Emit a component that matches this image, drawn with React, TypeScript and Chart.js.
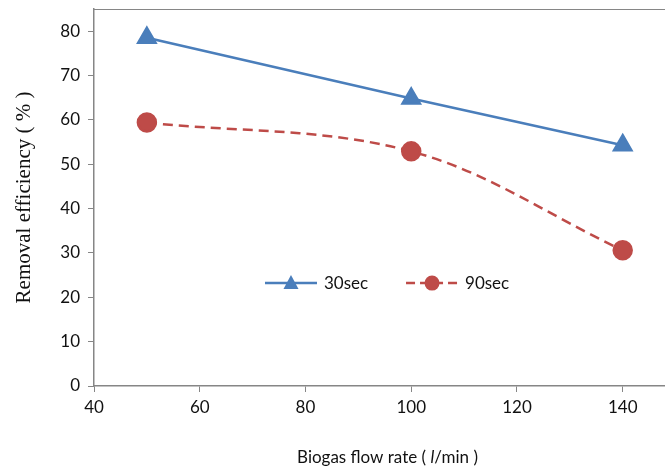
import { useEffect, useRef } from "react";
import { Chart, registerables } from "chart.js";
Chart.register(...registerables);

const flowRates = [50, 100, 140];
const eff30 = [78.5, 64.8, 54.3];
const eff90 = [59.4, 52.9, 30.6];
const seriesNames = ["30sec", "90sec"];
const xMin = 40;
const xMax = 148;
const xStep = 20;
const yMin = 0;
const yMax = 85;
const yStep = 10;
const yTitle = "Removal efficiency ( % )";
const xTitleParts = [
  { text: "Biogas flow rate ( ", italic: false },
  { text: "l", italic: true },
  { text: "/min )", italic: false },
];

const BLUE = "#4A7EBB";
const RED = "#BE4B48";
const AXIS = "#868686";
const SANS = "Lato, 'Open Sans', sans-serif";

export default function App() {
  const ref = useRef<HTMLCanvasElement | null>(null);
  useEffect(() => {
    if (!ref.current) return;
    const extras = {
      id: "extras",
      afterDraw(chart: any) {
        const ctx = chart.ctx;
        const a = chart.chartArea;
        ctx.save();
        // top border
        ctx.strokeStyle = AXIS;
        ctx.lineWidth = 1.2;
        ctx.beginPath();
        ctx.moveTo(a.left, a.top + 0.5);
        ctx.lineTo(a.right, a.top + 0.5);
        ctx.stroke();
        // legend
        const w = a.right - a.left;
        const h = a.bottom - a.top;
        const ly = a.top + 0.727 * h;
        const items = [
          { x: a.left + 0.345 * w, color: BLUE, dash: [] as number[], style: "triangle", name: seriesNames[0] },
          { x: a.left + 0.592 * w, color: RED, dash: [9, 5], style: "circle", name: seriesNames[1] },
        ];
        ctx.font = "17px " + SANS;
        ctx.textBaseline = "middle";
        for (const it of items) {
          ctx.strokeStyle = it.color;
          ctx.lineWidth = 2.5;
          ctx.setLineDash(it.dash);
          ctx.beginPath();
          ctx.moveTo(it.x - 26, ly);
          ctx.lineTo(it.x + 26, ly);
          ctx.stroke();
          ctx.setLineDash([]);
          ctx.fillStyle = it.color;
          ctx.beginPath();
          if (it.style === "triangle") {
            ctx.moveTo(it.x, ly - 8);
            ctx.lineTo(it.x + 7.5, ly + 6);
            ctx.lineTo(it.x - 7.5, ly + 6);
            ctx.closePath();
          } else {
            ctx.arc(it.x, ly, 7.5, 0, Math.PI * 2);
          }
          ctx.fill();
          ctx.fillStyle = "#111";
          ctx.textAlign = "left";
          ctx.fillText(it.name, it.x + 33, ly);
        }
        // x title with italic l
        const cx = (a.left + a.right) / 2 + 8;
        const ty = chart.height - 11;
        const fonts = xTitleParts.map((p) => (p.italic ? "italic 17px " : "17px ") + SANS);
        let total = 0;
        const widths = xTitleParts.map((p, i) => {
          ctx.font = fonts[i];
          const m = ctx.measureText(p.text).width;
          total += m;
          return m;
        });
        let x = cx - total / 2;
        ctx.fillStyle = "#111";
        xTitleParts.forEach((p, i) => {
          ctx.font = fonts[i];
          ctx.fillText(p.text, x, ty);
          x += widths[i];
        });
        ctx.restore();
      },
    };
    const chart = new Chart(ref.current, {
      type: "line",
      data: {
        datasets: [
          {
            label: seriesNames[0],
            data: flowRates.map((x, i) => ({ x, y: eff30[i] })),
            borderColor: BLUE,
            backgroundColor: BLUE,
            borderWidth: 2.5,
            pointStyle: "triangle",
            pointRadius: 10,
            pointHoverRadius: 10,
            tension: 0,
          },
          {
            label: seriesNames[1],
            data: flowRates.map((x, i) => ({ x, y: eff90[i] })),
            borderColor: RED,
            backgroundColor: RED,
            borderWidth: 2.5,
            borderDash: [10, 6],
            pointStyle: "circle",
            pointRadius: 9,
            pointHoverRadius: 9,
            tension: 0.35,
            cubicInterpolationMode: "default",
          },
        ],
      },
      options: {
        animation: false,
        responsive: true,
        maintainAspectRatio: false,
        layout: { autoPadding: false, padding: { left: 0, right: 0, top: 9, bottom: 0 } },
        plugins: { legend: { display: false }, tooltip: { enabled: false } },
        scales: {
          x: {
            type: "linear",
            min: xMin,
            max: xMax,
            afterFit(s: any) {
              s.height = 83;
              s.paddingLeft = 0;
              s.paddingRight = 0;
            },
            ticks: {
              stepSize: xStep,
              includeBounds: false,
              color: "#111",
              font: { family: SANS, size: 17 },
              padding: 5,
            },
            grid: { display: true, drawOnChartArea: false, drawTicks: true, tickLength: 6, color: AXIS },
            border: { color: AXIS, width: 1.5 },
          },
          y: {
            min: yMin,
            max: yMax,
            afterFit(s: any) {
              s.width = 94;
              s.paddingTop = 0;
              s.paddingBottom = 0;
            },
            ticks: {
              stepSize: yStep,
              includeBounds: false,
              color: "#111",
              font: { family: SANS, size: 17 },
              padding: 8,
            },
            title: {
              display: true,
              text: yTitle,
              color: "#111",
              font: { family: "'Liberation Serif', 'Times New Roman', serif", size: 21 },
              padding: { top: 12, bottom: 0 },
            },
            grid: { display: true, drawOnChartArea: false, drawTicks: true, tickLength: 6, color: AXIS },
            border: { color: AXIS, width: 1.5 },
          },
        },
      },
      plugins: [extras],
    } as any);
    return () => chart.destroy();
  }, []);
  return (
    <div style={{ position: "fixed", left: 0, top: 0, width: 665, height: 469, background: "#fff" }}>
      <canvas ref={ref} />
    </div>
  );
}
